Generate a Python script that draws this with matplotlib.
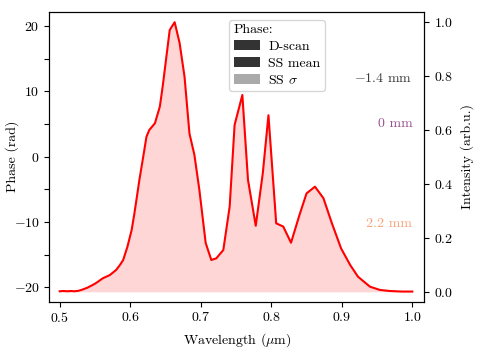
import matplotlib
matplotlib.use("Agg")
import matplotlib.pyplot as plt
from matplotlib.patches import Patch
from matplotlib.ticker import MultipleLocator

plt.rcParams['font.family'] = ['cmr10', 'DejaVu Serif']
plt.rcParams['mathtext.fontset'] = 'cm'
plt.rcParams['axes.formatter.use_mathtext'] = True
plt.rcParams['font.size'] = 10

wavelength = [0.500, 0.505, 0.511, 0.516, 0.521, 0.527, 0.533, 0.539, 0.545, 0.550,
              0.554, 0.561, 0.571, 0.580, 0.585, 0.590, 0.596, 0.602, 0.606, 0.613,
              0.620, 0.623, 0.627, 0.635, 0.642, 0.646, 0.656, 0.663, 0.670, 0.677,
              0.684, 0.691, 0.698, 0.707, 0.715, 0.722, 0.732, 0.741, 0.748, 0.759,
              0.767, 0.778, 0.788, 0.796, 0.807, 0.817, 0.828, 0.840, 0.850, 0.862,
              0.874, 0.886, 0.899, 0.912, 0.923, 0.940, 0.954, 0.968, 0.985, 1.000]
intensity = [0.002, 0.003, 0.002, 0.003, 0.002, 0.004, 0.009, 0.015, 0.023, 0.030,
             0.037, 0.050, 0.062, 0.081, 0.098, 0.118, 0.167, 0.229, 0.292, 0.415,
             0.526, 0.575, 0.600, 0.625, 0.687, 0.761, 0.971, 1.000, 0.923, 0.798,
             0.587, 0.508, 0.379, 0.181, 0.118, 0.124, 0.155, 0.316, 0.619, 0.730,
             0.415, 0.245, 0.440, 0.655, 0.254, 0.242, 0.182, 0.285, 0.365, 0.390,
             0.347, 0.254, 0.161, 0.099, 0.056, 0.019, 0.007, 0.003, 0.001, 0.001]

legend_labels = ['D-scan', 'SS mean', r'SS $\sigma$']
legend_colors = ['#333333', '#333333', '#aaaaaa']

annot_labels = [r'$-$1.4 mm', '0 mm', '2.2 mm']
annot_phase = [11.9, 5.0, -10.3]
annot_colors = ['#3a3a3a', '#94508f', '#f7a47a']

fig = plt.figure(figsize=(4.79, 3.53), dpi=100)
ax = fig.add_axes([0.1033, 0.1453, 0.7825, 0.8216])
ax2 = ax.twinx()

ax2.fill_between(wavelength, 0, intensity, color='#ffd6d6', lw=0)
ax2.plot(wavelength, intensity, color='red', lw=1.5)

ax.set_xlim(0.4855, 1.017)
ax.set_ylim(-22.2, 22.2)
ax2.set_ylim(-0.0367, 1.039)

ax.yaxis.set_major_locator(MultipleLocator(10))
ax.yaxis.set_minor_locator(MultipleLocator(5))
ax.tick_params(axis='y', which='minor', length=3.5, width=0.8)
ax.xaxis.set_major_locator(MultipleLocator(0.1))
ax2.yaxis.set_major_locator(MultipleLocator(0.2))

ax.set_xlabel(r'Wavelength ($\mathrm{\mu}$m)')
ax.set_ylabel('Phase (rad)')
ax2.set_ylabel('Intensity (arb.u.)')
ax.yaxis.set_label_coords(-0.08, 0.5)
ax2.yaxis.set_label_coords(1.097, 0.5)

for lab, ph, col in zip(annot_labels, annot_phase, annot_colors):
    ax.text(1.0, ph, lab, color=col, ha='right', va='center', zorder=5)

handles = [Patch(facecolor=c, edgecolor='none') for c in legend_colors]
leg = ax2.legend(handles, legend_labels, title='Phase:', loc='upper left',
                 bbox_to_anchor=(0.48, 0.972), borderaxespad=0,
                 labelspacing=0.3, handlelength=1.9, handletextpad=0.6,
                 borderpad=0.3, fontsize=10, title_fontsize=10)
leg._legend_box.align = 'left'

fig.savefig('out.png', dpi=100)
